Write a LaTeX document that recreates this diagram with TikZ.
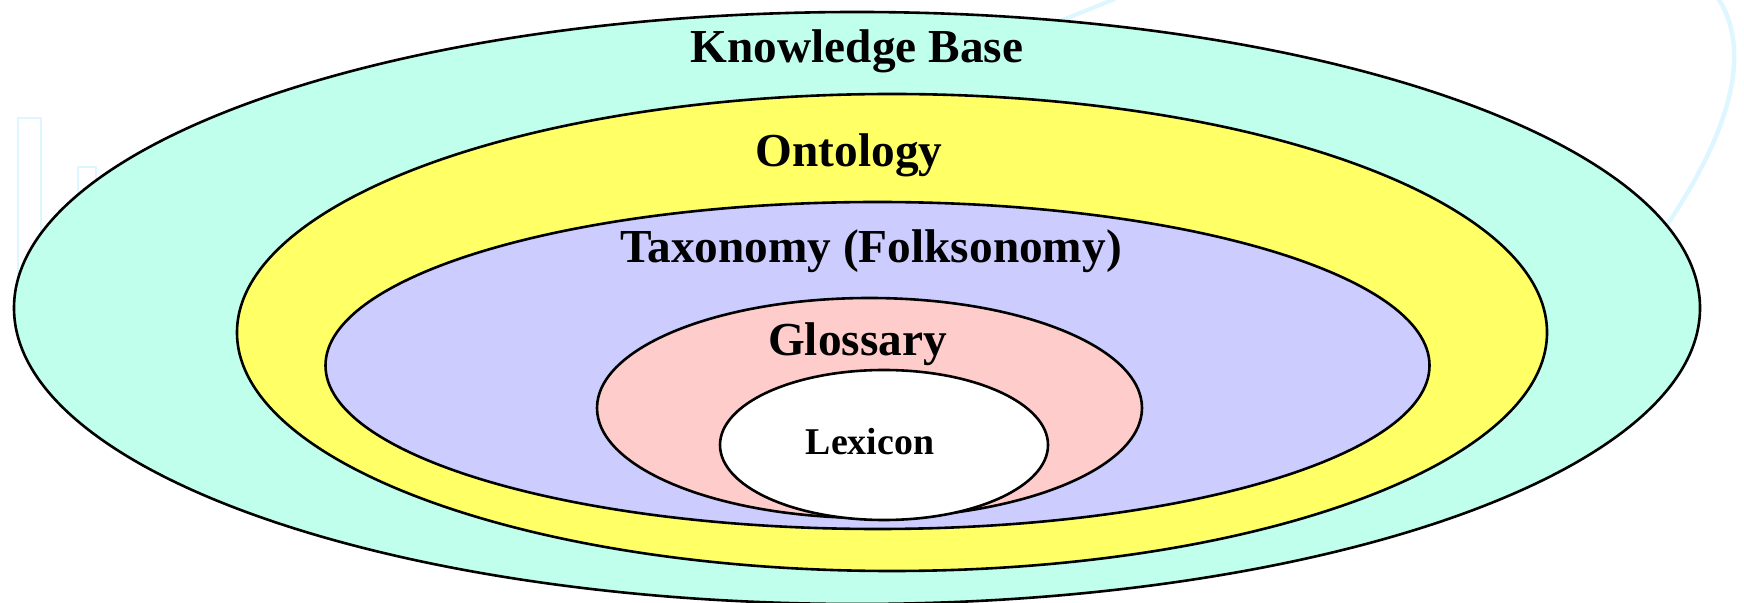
\documentclass[tikz,border=0pt]{standalone}
\usepackage{fontspec}
\setmainfont{Liberation Serif}
\usetikzlibrary{shapes.geometric}
\definecolor{kbcol}{RGB}{192,255,236}
\definecolor{ontcol}{RGB}{255,255,102}
\definecolor{taxcol}{RGB}{204,204,255}
\definecolor{glocol}{RGB}{255,204,204}
\definecolor{ghostcol}{RGB}{222,246,255}
\begin{document}
\begin{tikzpicture}[x=0.5pt,y=-0.5pt,
  ring/.style={ellipse, draw=black, line width=1.3pt, inner sep=0pt, outer sep=0pt},
  lbl/.style={anchor=base, font=\fontsize{23.65}{28}\selectfont\bfseries, inner sep=0pt},
  smalllbl/.style={anchor=base, font=\fontsize{18.9}{22}\selectfont\bfseries, inner sep=0pt},
  ghost/.style={draw=ghostcol}]
\useasboundingbox (0,0) rectangle (1744,603);
% faint background artefacts
\draw[ghost, line width=1pt] (18,340) -- (18,118) -- (41,118) -- (41,340);
\draw[ghost, line width=1pt] (78,340) -- (78,167) -- (96,167) -- (96,340);
\draw[ghost, line width=2.2pt] (1718,-2) .. controls (1745,40) and (1745,110) .. (1665,228);
\draw[ghost, line width=2pt] (1060,21) -- (1115,-1);
% nested sets
\node[ring, fill=kbcol, minimum width=843pt, minimum height=296pt] (kb) at (857,308) {};
\node[ring, fill=ontcol, minimum width=655pt, minimum height=238.5pt] (ont) at (892,332.5) {};
\node[ring, fill=taxcol, minimum width=552pt, minimum height=163.5pt] (tax) at (877.5,365.5) {};
\node[ring, fill=glocol, minimum width=272.5pt, minimum height=110pt] (glo) at (869.5,408) {};
\node[ring, fill=white, minimum width=164pt, minimum height=75pt] (lex) at (884,445) {};
% labels
\node[lbl] (kbl) at (857,63) {Knowledge Base};
\node[lbl] (ontl) at (849,167) {Ontology};
\node[lbl] (taxl) at (871,263) {Taxonomy (Folksonomy)};
\node[lbl] (glol) at (857.5,356) {Glossary};
\node[smalllbl] (lexl) at (870,455) {Lexicon};
\end{tikzpicture}
\end{document}
